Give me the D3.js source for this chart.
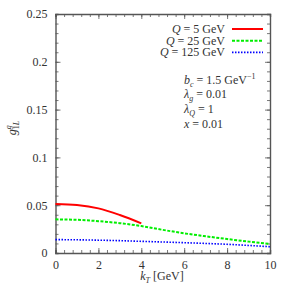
<!DOCTYPE html>
<html>
<head>
<meta charset="utf-8">
<script src="https://cdn.jsdelivr.net/npm/d3@7"></script>
<style>
  body { margin: 0; background: #fff; }
  text { font-family: "Liberation Serif", serif; fill: #333; }
</style>
</head>
<body>
<svg width="291" height="291"></svg>
<script>
const svg = d3.select('svg');
const width = +svg.attr('width');
const height = +svg.attr('height');

// data
const kT5 = [0, 1, 2, 3, 4];
const q5 = [0.0513, 0.0502, 0.0467, 0.0397, 0.0310];
const kT = [0, 1, 2, 3, 4, 5, 6, 7, 8, 9, 10];
const q25 = [0.0352, 0.0347, 0.0333, 0.0312, 0.0282, 0.0242, 0.0206, 0.0175, 0.0146, 0.0119, 0.0094];
const q125 = [0.0140, 0.0138, 0.0134, 0.0129, 0.0122, 0.0115, 0.0108, 0.0100, 0.0091, 0.0079, 0.0066];
const legendLabels = ['5', '25', '125'];
const xTicks = [0, 2, 4, 6, 8, 10];
const yTicks = [0, 0.05, 0.1, 0.15, 0.2, 0.25];
const yTickLabels = ['0', '0.05', '0.1', '0.15', '0.2', '0.25'];

const margin = { left: 55.5, top: 14, right: 21, bottom: 38 };
const innerWidth = width - margin.left - margin.right;
const innerHeight = height - margin.top - margin.bottom;

const xScale = d3.scaleLinear().domain([0, 10]).range([0, innerWidth]);
const yScale = d3.scaleLinear().domain([0, 0.25]).range([innerHeight, 0]);

const g = svg.append('g')
  .attr('transform', `translate(${margin.left},${margin.top})`);

// minor ticks (inward, all four sides)
const xMinor = d3.range(0, 10.001, 0.4);
const yMinor = d3.range(0, 0.2501, 0.01);

const styleAxis = sel => {
  sel.select('.domain').attr('stroke', '#555').attr('stroke-width', 1.4);
  sel.selectAll('.tick line').attr('stroke', '#555').attr('stroke-width', 0.8);
};
const noText = sel => sel.selectAll('.tick text').remove();

g.append('g').attr('transform', `translate(0,${innerHeight})`)
  .call(d3.axisBottom(xScale).tickValues(xMinor).tickSize(-3))
  .call(styleAxis).call(noText);
g.append('g')
  .call(d3.axisTop(xScale).tickValues(xMinor).tickSize(-3))
  .call(styleAxis).call(noText);
g.append('g')
  .call(d3.axisLeft(yScale).tickValues(yMinor).tickSize(-3))
  .call(styleAxis).call(noText);
g.append('g').attr('transform', `translate(${innerWidth},0)`)
  .call(d3.axisRight(yScale).tickValues(yMinor).tickSize(-3))
  .call(styleAxis).call(noText);

// major ticks with labels
const xAxisG = g.append('g').attr('transform', `translate(0,${innerHeight})`)
  .call(d3.axisBottom(xScale).tickValues(xTicks).tickSize(-5).tickPadding(7))
  .call(styleAxis);
xAxisG.selectAll('text').attr('font-size', 12).attr('fill', '#333');
xAxisG.select('.domain').remove();

const yAxisG = g.append('g')
  .call(d3.axisLeft(yScale).tickValues(yTicks).tickSize(-5)
    .tickPadding(8).tickFormat((d, i) => yTickLabels[i]))
  .call(styleAxis);
yAxisG.selectAll('text').attr('font-size', 12).attr('fill', '#333');
yAxisG.select('.domain').remove();

g.append('g')
  .call(d3.axisTop(xScale).tickValues(xTicks).tickSize(-5))
  .call(styleAxis).call(noText).select('.domain').remove();
g.append('g').attr('transform', `translate(${innerWidth},0)`)
  .call(d3.axisRight(yScale).tickValues(yTicks).tickSize(-5))
  .call(styleAxis).call(noText).select('.domain').remove();

// curves
const line = d3.line()
  .x(d => xScale(d[0]))
  .y(d => yScale(d[1]))
  .curve(d3.curveMonotoneX);

const series = [
  { pts: kT5.map((k, i) => [k, q5[i]]), color: '#ff0000', width: 2, dash: null },
  { pts: kT.map((k, i) => [k, q25[i]]), color: '#00ee00', width: 2, dash: '3,1.5' },
  { pts: kT.map((k, i) => [k, q125[i]]), color: '#0000ff', width: 1.6, dash: '1.5,1.5' }
];

g.selectAll('path.curve').data(series).enter().append('path')
  .attr('class', 'curve')
  .attr('d', d => line(d.pts))
  .attr('fill', 'none')
  .attr('stroke', d => d.color)
  .attr('stroke-width', d => d.width)
  .attr('stroke-dasharray', d => d.dash);

// legend
const legend = svg.append('g');
legendLabels.forEach((lab, i) => {
  const y = 29 + i * 11.7;
  const t = legend.append('text')
    .attr('x', 225).attr('y', y + 4)
    .attr('text-anchor', 'end').attr('font-size', 12);
  t.append('tspan').attr('font-style', 'italic').text('Q');
  t.append('tspan').text(` = ${lab} GeV`);
  legend.append('line')
    .attr('x1', 232).attr('x2', 263).attr('y1', y).attr('y2', y)
    .attr('stroke', series[i].color)
    .attr('stroke-width', series[i].width)
    .attr('stroke-dasharray', series[i].dash);
});

// parameter text
const px = 184;
const p1 = svg.append('text').attr('x', px).attr('y', 84).attr('font-size', 12);
p1.append('tspan').attr('font-style', 'italic').text('b');
p1.append('tspan').attr('font-style', 'italic').attr('font-size', 8).attr('dy', 2.5).text('c');
p1.append('tspan').attr('dy', -2.5).text(' = 1.5 GeV');
p1.append('tspan').attr('font-size', 8).attr('dy', -5).text('−1');

const p2 = svg.append('text').attr('x', px).attr('y', 98).attr('font-size', 12);
p2.append('tspan').attr('font-style', 'italic').text('λ');
p2.append('tspan').attr('font-style', 'italic').attr('font-size', 8).attr('dy', 2.5).text('g');
p2.append('tspan').attr('dy', -2.5).text(' = 0.01');

const p3 = svg.append('text').attr('x', px).attr('y', 113).attr('font-size', 12);
p3.append('tspan').attr('font-style', 'italic').text('λ');
p3.append('tspan').attr('font-style', 'italic').attr('font-size', 8).attr('dy', 2.5).text('Q');
p3.append('tspan').attr('dy', -2.5).text(' = 1');

const p4 = svg.append('text').attr('x', px).attr('y', 128).attr('font-size', 12);
p4.append('tspan').attr('font-style', 'italic').text('x');
p4.append('tspan').text(' = 0.01');

// axis labels
const xl = svg.append('text')
  .attr('x', 162).attr('y', 280).attr('text-anchor', 'middle').attr('font-size', 12);
xl.append('tspan').attr('font-style', 'italic').text('k');
xl.append('tspan').attr('font-style', 'italic').attr('font-size', 8).attr('dy', 2.5).text('T');
xl.append('tspan').attr('dy', -2.5).text(' [GeV]');

const yl = svg.append('text')
  .attr('transform', 'translate(16,128) rotate(-90)')
  .attr('text-anchor', 'middle').attr('font-size', 12);
yl.append('tspan').attr('font-style', 'italic').text('g');
yl.append('tspan').attr('font-style', 'italic').attr('font-size', 8).attr('dy', -5).text('g');
yl.append('tspan').attr('font-size', 8).attr('dx', -4).attr('dy', 8).text('1');
yl.append('tspan').attr('font-style', 'italic').attr('font-size', 8).text('L');
</script>
</body>
</html>
